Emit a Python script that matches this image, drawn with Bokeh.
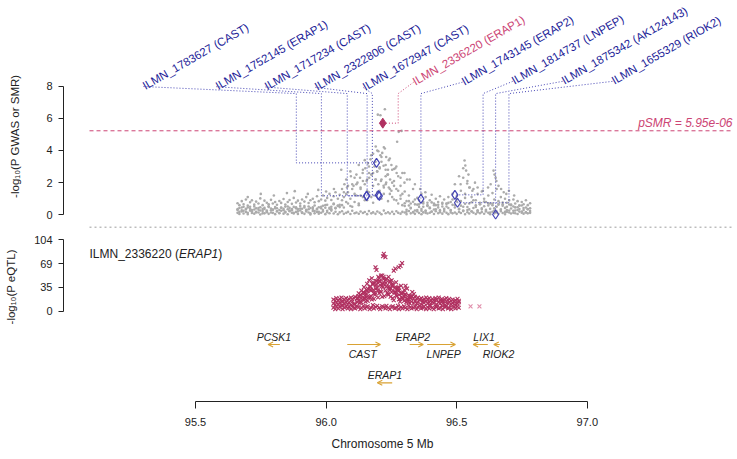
import math
from bokeh.plotting import figure
from bokeh.layouts import column
from bokeh.models import Range1d, FixedTicker, ColumnDataSource, Arrow, OpenHead, Title
from bokeh.core.properties import value
from bokeh.embed import file_html
from bokeh.resources import INLINE

# ---------------- data ----------------
# GWAS SNP positions (Mb) and four layers of -log10(P GWAS) read off the cloud
snp_mb = [
    95.661, 95.668, 95.677, 95.684, 95.693, 95.700, 95.709, 95.716, 95.725, 95.732,
    95.741, 95.748, 95.757, 95.764, 95.773, 95.780, 95.789, 95.796, 95.805, 95.812,
    95.821, 95.828, 95.837, 95.844, 95.853, 95.860, 95.869, 95.876, 95.885, 95.892,
    95.901, 95.908, 95.917, 95.924, 95.933, 95.940, 95.949, 95.956, 95.965, 95.972,
    95.981, 95.988, 95.997, 96.004, 96.013, 96.020, 96.029, 96.036, 96.045, 96.052,
    96.061, 96.068, 96.077, 96.084, 96.093, 96.100, 96.109, 96.116, 96.125, 96.132,
    96.141, 96.148, 96.157, 96.164, 96.173, 96.180, 96.189, 96.196, 96.205, 96.212,
    96.221, 96.228, 96.237, 96.244, 96.253, 96.260, 96.269, 96.276, 96.285, 96.292,
    96.301, 96.308, 96.317, 96.324, 96.333, 96.340, 96.349, 96.356, 96.365, 96.372,
    96.381, 96.388, 96.397, 96.404, 96.413, 96.420, 96.429, 96.436, 96.445, 96.452,
    96.461, 96.468, 96.477, 96.484, 96.493, 96.500, 96.509, 96.516, 96.525, 96.532,
    96.541, 96.548, 96.557, 96.564, 96.573, 96.580, 96.589, 96.596, 96.605, 96.612,
    96.621, 96.628, 96.637, 96.644, 96.653, 96.660, 96.669, 96.676, 96.685, 96.692,
    96.701, 96.708, 96.717, 96.724, 96.733, 96.740, 96.749, 96.756, 96.765, 96.772,
    96.781]
gwas_low = [
    0.12, 0.05, 0.21, 0.08, 0.17, 0.03, 0.26, 0.11, 0.07, 0.19, 0.14, 0.02, 0.23, 0.09, 0.16, 0.06, 0.28, 0.12, 0.04, 0.2,
    0.1, 0.25, 0.07, 0.15, 0.03, 0.22, 0.13, 0.08, 0.18, 0.05, 0.27, 0.11, 0.06, 0.2, 0.14, 0.02, 0.24, 0.09, 0.17, 0.07,
    0.13, 0.21, 0.04, 0.16, 0.1, 0.26, 0.08, 0.19, 0.03, 0.15, 0.22, 0.06, 0.12, 0.18, 0.05, 0.25, 0.1, 0.14, 0.07, 0.21,
    0.11, 0.17, 0.04, 0.23, 0.09, 0.15, 0.06, 0.2, 0.13, 0.03, 0.26, 0.1, 0.16, 0.08, 0.19, 0.05, 0.22, 0.12, 0.07, 0.18,
    0.14, 0.04, 0.24, 0.09, 0.17, 0.06, 0.21, 0.11, 0.03, 0.15, 0.25, 0.08, 0.13, 0.19, 0.05, 0.22, 0.1, 0.16, 0.07, 0.2,
    0.12, 0.04, 0.27, 0.09, 0.14, 0.06, 0.18, 0.11, 0.23, 0.03, 0.16, 0.08, 0.2, 0.13, 0.05, 0.24, 0.1, 0.17, 0.07, 0.21,
    0.12, 0.04, 0.19, 0.09, 0.15, 0.06, 0.22, 0.11, 0.03, 0.18, 0.14, 0.08, 0.25, 0.1, 0.05, 0.2, 0.13, 0.07, 0.16, 0.09,
    0.12]
gwas_mid = [
    0.35, 0.42, 0.28, 0.5, 0.33, 0.46, 0.38, 0.29, 0.52, 0.4, 0.31, 0.47, 0.36, 0.44, 0.27, 0.53, 0.39, 0.32, 0.48, 0.41,
    0.3, 0.45, 0.37, 0.51, 0.34, 0.43, 0.28, 0.49, 0.4, 0.35, 0.55, 0.38, 0.46, 0.31, 0.52, 0.42, 0.36, 0.58, 0.33, 0.47,
    0.4, 0.56, 0.44, 0.62, 0.38, 0.5, 0.66, 0.43, 0.58, 0.48,
    0.9, 0.45, 1.3, 0.7, 0.55, 1.6, 0.8, 1.9, 0.6, 1.2, 2.1, 0.9, 1.5, 2.6, 1.1, 0.75, 2.2, 1.4, 2.9, 1.0,
    1.7, 2.4, 0.85, 1.3, 2.0, 0.95, 1.6, 0.7, 1.2, 0.6,
    0.72, 0.31, 0.58, 0.44, 0.81, 0.27, 0.63, 0.49, 0.36, 0.7, 0.25, 0.55, 0.41, 0.77, 0.33, 0.6, 0.46, 0.29, 0.68, 0.38,
    0.52, 0.74, 0.3, 0.62, 0.45, 0.83, 0.35, 0.57, 0.26, 0.69, 0.48, 0.34, 0.78, 0.42, 0.59, 0.28, 0.66, 0.4, 0.53, 0.31,
    0.71, 0.37, 0.6, 0.26, 0.5, 0.67, 0.33, 0.56, 0.43, 0.29, 0.64, 0.39, 0.52, 0.27, 0.47, 0.36, 0.58, 0.3, 0.45, 0.34,
    0.4]
gwas_high = [
    0.72, 0.6, 0.85, 0.66, 0.95, 0.58, 0.78, 0.9, 0.63, 0.82, 0.7, 1.02, 0.6, 0.88, 0.75, 0.65, 0.93, 0.7, 0.8, 0.62,
    0.86, 0.74, 0.98, 0.64, 0.8, 0.92, 0.68, 1.05, 0.76, 0.88, 0.7, 0.95, 0.82, 1.1, 0.73, 0.9, 1.0, 0.78, 1.15, 0.85,
    0.95, 1.2, 0.88, 1.05, 1.3, 0.92, 1.15, 1.4, 1.0, 1.25,
    1.6, 1.1, 2.2, 1.4, 2.7, 1.9, 1.3, 2.5, 3.1, 1.7, 2.8, 3.4, 2.2, 3.0, 3.7, 2.6, 3.3, 4.0, 2.9, 3.6,
    4.2, 3.1, 2.5, 3.5, 2.8, 2.1, 3.0, 2.4, 1.8, 2.6,
    1.45, 0.85, 1.2, 0.7, 1.6, 0.95, 1.05, 0.65, 1.3, 0.8, 1.1, 0.6, 0.9, 1.25, 0.7, 1.0, 0.62, 1.15, 0.75, 0.95,
    0.68, 1.1, 0.8, 1.3, 1.9, 1.0, 2.4, 1.5, 2.9, 1.3, 2.1, 1.7, 1.1, 1.6, 0.9, 1.3, 0.75, 1.45, 1.0, 0.8,
    1.2, 0.7, 1.35, 0.95, 1.6, 0.85, 1.1, 0.65, 1.0, 0.75, 0.9, 0.6, 0.95, 0.7, 0.85, 0.58, 0.8, 0.66, 0.9, 0.6,
    0.72]
gwas_extra = [
    0.3, 0.18, 0.45, 0.25, 0.38, 0.12, 0.5, 0.22, 0.33, 0.15, 0.42, 0.27, 0.09, 0.36, 0.2, 0.48, 0.14, 0.31, 0.4, 0.24,
    0.11, 0.44, 0.29, 0.19, 0.52, 0.26, 0.35, 0.13, 0.47, 0.21, 0.39, 0.16, 0.55, 0.28, 0.34, 0.1, 0.46, 0.23, 0.37, 0.18,
    0.5, 0.3, 0.6, 0.25, 0.44, 0.35, 0.7, 0.4, 0.55, 0.62,
    0.6, 1.4, 0.8, 1.8, 1.0, 0.5, 2.3, 1.2, 0.7, 1.6, 1.1, 1.9, 0.9, 1.4, 2.5, 1.8, 1.2, 2.7, 1.5, 2.2,
    1.3, 1.9, 2.8, 1.6, 1.1, 1.8, 0.9, 1.5, 1.0, 1.3,
    0.55, 0.2, 0.85, 0.4, 0.15, 0.65, 0.3, 0.9, 0.25, 0.5, 0.12, 0.75, 0.45, 0.2, 0.6, 0.35, 0.8, 0.18, 0.52, 0.3,
    0.7, 0.42, 0.15, 0.95, 0.6, 1.15, 0.38, 0.85, 0.5, 1.05, 0.3, 0.7, 0.22, 0.9, 0.48, 0.16, 0.66, 0.34, 0.82, 0.25,
    0.58, 0.14, 0.7, 0.4, 0.2, 0.62, 0.32, 0.76, 0.18, 0.5, 0.27, 0.64, 0.12, 0.46, 0.3, 0.58, 0.2, 0.42, 0.15, 0.36,
    0.24]
# individual stronger GWAS SNPs
top_snp_mb = [
    96.198, 96.208, 96.225, 96.272, 96.278, 96.289, 96.225, 96.208, 96.190, 96.200,
    96.215, 96.230, 96.240, 96.180, 96.170, 96.160, 96.150, 96.250, 96.260, 96.270,
    96.285, 96.300, 96.310, 96.140, 96.130, 96.120, 96.105, 96.095, 96.080, 96.070,
    96.058, 96.030, 96.000, 95.970, 95.930, 95.880, 95.850, 95.800, 95.750, 95.700,
    96.185, 96.195, 96.205, 96.212, 96.220, 96.228, 96.235, 96.245, 96.175, 96.165,
    96.155, 96.190, 96.200, 96.210, 96.220, 96.230, 96.240, 96.250, 96.265, 96.300,
    96.320, 96.340, 96.360, 96.380, 96.530, 96.533, 96.536, 96.540, 96.525, 96.545,
    96.550, 96.515, 96.560, 96.641, 96.645, 96.649, 96.652, 96.660, 96.670, 96.620,
    96.630, 96.680, 96.690, 96.700, 96.720, 96.600, 96.580, 96.570]
top_snp_logp = [
    6.23, 6.19, 6.57, 4.54, 5.16, 5.22, 4.12, 3.70, 4.25, 3.95,
    3.85, 3.60, 3.40, 3.80, 3.45, 3.20, 2.90, 3.10, 2.85, 2.60,
    2.30, 2.00, 2.20, 2.60, 2.30, 2.00, 1.80, 2.40, 1.70, 1.90,
    2.80, 1.60, 1.45, 1.55, 1.30, 1.47, 1.35, 1.20, 1.30, 1.10,
    3.00, 2.70, 2.95, 3.30, 3.05, 2.80, 2.50, 2.20, 2.50, 2.30,
    2.10, 2.20, 1.90, 2.10, 1.80, 2.00, 1.70, 1.50, 2.90, 2.60,
    2.20, 1.90, 1.60, 1.40, 3.38, 3.07, 2.75, 1.95, 2.30, 2.50,
    1.70, 1.90, 1.50, 2.75, 2.50, 2.30, 2.10, 1.80, 1.60, 1.70,
    1.90, 1.40, 1.30, 1.50, 1.20, 1.50, 1.70, 2.00]

# SMR probes
probe_id = ["ILMN_1783627", "ILMN_1752145", "ILMN_1717234", "ILMN_2322806", "ILMN_1672947",
            "ILMN_2336220", "ILMN_1743145", "ILMN_1814737", "ILMN_1875342", "ILMN_1655329"]
probe_gene = ["CAST", "ERAP1", "CAST", "CAST", "CAST", "ERAP1", "ERAP2", "LNPEP", "AK124143", "RIOK2"]
probe_mb = [95.886, 95.982, 96.081, 96.157, 96.177, 96.276, 96.363, 96.601, 96.649, 96.700]
probe_smr_logp = [3.23, 1.18, 1.18, 1.22, 1.18, 5.70, 0.99, 1.24, 0.02, 0.75]
probe_top_eqtl_mb = [96.193, 96.155, 96.155, 96.200, 96.204, 96.217, 96.363, 96.493, 96.649, 96.503]
highlight_probe = "ILMN_2336220"
highlight_gene = "ERAP1"
p_smr = 5.95e-06
p_smr_label = "pSMR = 5.95e-06"

# eQTL of the highlighted probe
eqtl_mb = [
    96.028, 96.035, 96.039, 96.047, 96.052, 96.059, 96.063, 96.071, 96.076, 96.083,
    96.087, 96.095, 96.100, 96.107, 96.111, 96.119, 96.124, 96.131, 96.135, 96.143,
    96.148, 96.155, 96.159, 96.167, 96.172, 96.179, 96.183, 96.191, 96.196, 96.203,
    96.207, 96.215, 96.220, 96.227, 96.231, 96.239, 96.244, 96.251, 96.255, 96.263,
    96.268, 96.275, 96.279, 96.287, 96.292, 96.299, 96.303, 96.311, 96.316, 96.323,
    96.327, 96.335, 96.340, 96.347, 96.351, 96.359, 96.364, 96.371, 96.375, 96.383,
    96.388, 96.395, 96.399, 96.407, 96.412, 96.419, 96.423, 96.431, 96.436, 96.443,
    96.447, 96.455, 96.460, 96.467, 96.471, 96.479, 96.484, 96.491, 96.495, 96.503,
    96.508]
eqtl_low = [
    5, 3, 7, 4, 6, 8, 3, 5, 7, 4, 6, 3, 8, 5, 4, 7, 6, 3, 5, 8,
    4, 6, 7, 3, 5, 9, 4, 6, 8, 5, 3, 7, 6, 4, 8, 5, 3, 6, 7, 4,
    5, 8, 3, 6, 4, 7, 5, 3, 8, 6, 4, 5, 7, 3, 6, 8, 4, 5, 7, 3,
    6, 4, 8, 5, 3, 7, 6, 4, 5, 8, 3, 6, 7, 4, 5, 3, 8, 6, 4, 7,
    5]
eqtl_mid = [
    11, 9, 13, 10, 12, 14, 9, 11, 13, 10, 12, 9, 14, 11, 10, 13,
    16, 24, 13, 27, 19, 31, 15, 35, 22, 40, 18, 33, 44, 26, 38, 21, 47, 30, 36, 24,
    42, 28, 19, 34, 23, 30, 17, 26, 20, 15, 24, 18, 14, 20,
    14, 12, 15, 11, 13, 16, 10, 14, 12, 15, 11, 13, 9, 14, 12, 16, 10, 13, 11, 15,
    12, 9, 14, 11, 13, 10, 12, 14, 9, 11, 13]
eqtl_high = [
    17, 15, 19, 16, 18, 20, 15, 17, 19, 16, 18, 20, 17, 19, 21, 18,
    22, 14, 19, 28, 18, 25, 33, 21, 30, 39, 26, 44, 34, 48, 29, 52, 41, 46, 36, 50,
    31, 45, 38, 27, 42, 33, 24, 37, 20, 31, 25, 17, 23, 19,
    22, 19, 21, 18, 20, 17, 19, 16, 18, 20, 17, 19, 15, 18, 16, 19, 17, 20, 16, 18,
    15, 17, 19, 16, 18, 15, 17, 14, 16, 18, 15]
eqtl_fill_mb = [
    96.122, 96.128, 96.133, 96.139, 96.146, 96.151, 96.157, 96.163, 96.170, 96.175,
    96.181, 96.187, 96.194, 96.199, 96.205, 96.211, 96.218, 96.223, 96.229, 96.235,
    96.242, 96.247, 96.253, 96.259, 96.266, 96.271, 96.277, 96.283, 96.290, 96.295,
    96.301, 96.307, 96.314, 96.319]
eqtl_fill_logp = [
    19, 12, 23, 17, 26, 14, 29, 20, 36, 17, 31, 24, 39, 20, 43, 28, 35, 22, 41, 27,
    33, 21, 37, 16, 28, 22, 35, 14, 26, 18, 21, 13, 17, 12]
eqtl_top_mb = [96.221, 96.227, 96.218, 96.189, 96.193, 96.259, 96.265, 96.278, 96.291, 96.285,
               96.157, 96.165, 96.175, 96.200, 96.210, 96.220, 96.232, 96.245, 96.255, 96.304,
               96.310, 96.336, 96.330, 96.145, 96.135, 96.125, 96.180, 96.190, 96.205, 96.215,
               96.240, 96.270, 96.280, 96.295, 96.320, 96.150, 96.170, 96.186, 96.212, 96.236,
               96.262, 96.248, 96.198, 96.162, 96.282]
eqtl_top_logp = [83.6, 78.7, 80, 64, 60, 59, 62, 64, 70, 66,
                 40, 45, 48, 50, 52, 50, 47, 44, 40, 37,
                 33, 25, 28, 35, 30, 26, 42, 38, 44, 40,
                 36, 34, 30, 27, 22, 22, 31, 27, 36, 25,
                 28, 33, 30, 20, 18]
eqtl_far_mb = [96.553, 96.587]
eqtl_far_logp = [7, 7]

# genes
gene_name = ["PCSK1", "CAST", "ERAP2", "LNPEP", "LIX1", "RIOK2", "ERAP1"]
gene_start = [95.778, 96.081, 96.320, 96.387, 96.563, 96.642, 96.196]
gene_end = [95.823, 96.208, 96.372, 96.495, 96.619, 96.665, 96.253]
gene_strand = ["-", "+", "+", "+", "-", "-", "-"]

x_ticks = [95.5, 96.0, 96.5, 97.0]
x_tick_labels = ["95.5", "96.0", "96.5", "97.0"]
gwas_ticks = [0, 2, 4, 6, 8]
eqtl_ticks = [0, 35, 69, 104]

# ---------------- layout / style ----------------
FONT = "Liberation Sans"
NAVY_TXT = "#1d1d98"
NAVY_LN = "#4545b4"
MAROON = "#B03060"
PINK = "#CC4474"
GREY = "#ABABAB"
GOLD = "#D9A233"
AXC = "#222222"
NB = "\u00a0"

W = 737
LEFT = 63
xr = Range1d(94.99464, 97.5750)
PLOT_X0 = 95.0942
PLOT_X1 = 97.556
CONNECT_TOP = 7.54

label_anchor_mb = [95.301, 95.580, 95.768, 95.959, 96.143, 96.335, 96.522, 96.714, 96.905, 97.096]
label_anchor_y = [7.98, 7.97, 7.95, 7.93, 7.91, 8.25, 8.25, 8.3, 8.3, 8.3]
gene_label_mb = [95.800, 96.140, 96.332, 96.450, 96.605, 96.660, 96.225]
gene_row = [1, 1, 1, 1, 1, 1, 2]
gene_label_side = ["above", "below", "above", "below", "above", "below", "above"]


def base(h, yr, **kw):
    p = figure(width=W, height=h, x_range=xr, y_range=yr, output_backend="svg",
               toolbar_location=None, min_border_left=LEFT, min_border_right=0,
               min_border_top=0, **kw)
    p.grid.visible = False
    p.outline_line_color = None
    return p


def style_yaxis(ax, ticks, label, standoff):
    ax.bounds = (min(ticks), max(ticks))
    ax.ticker = FixedTicker(ticks=ticks)
    ax.major_tick_out = 5
    ax.major_tick_in = 0
    ax.minor_tick_out = 0
    ax.minor_tick_in = 0
    ax.axis_line_color = AXC
    ax.major_tick_line_color = AXC
    ax.major_label_text_font = FONT
    ax.major_label_text_font_size = "11px"
    ax.major_label_text_color = AXC
    ax.major_label_standoff = 6
    ax.axis_label = label
    ax.axis_label_text_font = FONT
    ax.axis_label_text_font_size = "11.5px"
    ax.axis_label_text_font_style = "normal"
    ax.axis_label_text_color = AXC
    ax.axis_label_standoff = standoff


# ---------- panel A: GWAS + SMR ----------
pA = base(230, Range1d(-0.977, 13.331), x_axis_location=None, min_border_bottom=0)
style_yaxis(pA.yaxis[0], gwas_ticks, "-log\u2081\u2080(P GWAS or SMR)" + NB * 13, 22)

gx, gy = [], []
for layer in (gwas_low, gwas_mid, gwas_high, gwas_extra):
    for x, y in zip(snp_mb, layer):
        gx.append(x)
        gy.append(y)
for x, y in zip(top_snp_mb, top_snp_logp):
    gx.append(x)
    gy.append(y)
pA.scatter(gx, gy, marker="circle", size=2.6, fill_color=GREY, line_color=None)

thr = -math.log10(p_smr)
pA.segment(x0=[PLOT_X0], y0=[thr], x1=[PLOT_X1], y1=[thr], line_color=PINK,
           line_dash="4 3", line_width=1)
pA.segment(x0=[PLOT_X0], y0=[-0.77], x1=[PLOT_X1], y1=[-0.77], line_color="#9c9c9c",
           line_dash="2 3", line_width=1)

hi = probe_id.index(highlight_probe)
xs, ys, cols = [], [], []
for i in range(len(probe_id)):
    xs.append([label_anchor_mb[i], probe_mb[i], probe_mb[i], probe_top_eqtl_mb[i]])
    ys.append([label_anchor_y[i], CONNECT_TOP, probe_smr_logp[i], probe_smr_logp[i]])
    cols.append(PINK if i == hi else NAVY_LN)
pA.multi_line(xs=xs, ys=ys, line_color=cols, line_dash="1 2", line_width=1)

bx = [probe_top_eqtl_mb[i] for i in range(len(probe_id)) if i != hi]
by = [probe_smr_logp[i] for i in range(len(probe_id)) if i != hi]
pA.scatter(bx, by, marker="diamond", size=9, fill_color=None, line_color=NAVY_LN, line_width=1.2)
pA.scatter([probe_top_eqtl_mb[hi]], [probe_smr_logp[hi]], marker="diamond", size=10,
           fill_color=MAROON, line_color=MAROON)

lab_src = ColumnDataSource(dict(
    x=label_anchor_mb, y=label_anchor_y,
    t=[f"{pid} ({g})" for pid, g in zip(probe_id, probe_gene)],
    c=[PINK if i == hi else NAVY_TXT for i in range(len(probe_id))]))
pA.text(x="x", y="y", text="t", source=lab_src, angle=math.radians(30), text_color="c",
        text_font=value(FONT), text_font_size=value("11.5px"), text_align="left",
        text_baseline="alphabetic")
pA.text(x=[PLOT_X1], y=[5.74], text=[p_smr_label], text_color=PINK, text_font=value(FONT),
        text_font_size=value("12px"), text_font_style="italic", text_align="right",
        text_baseline="alphabetic")

# ---------- panel B: eQTL ----------
pB = base(100, Range1d(-28.11, 117.55), x_axis_location=None, min_border_bottom=0)
style_yaxis(pB.yaxis[0], eqtl_ticks, "-log\u2081\u2080(P eQTL)" + NB * 4, 14)
ex, ey = [], []
for layer in (eqtl_low, eqtl_mid, eqtl_high):
    for x, y in zip(eqtl_mb, layer):
        ex.append(x)
        ey.append(y)
for xl, yl in ((eqtl_fill_mb, eqtl_fill_logp), (eqtl_top_mb, eqtl_top_logp)):
    for x, y in zip(xl, yl):
        ex.append(x)
        ey.append(y)
pB.scatter(ex, ey, marker="x", size=5.5, line_color=MAROON, line_width=1.1)
pB.scatter(eqtl_far_mb, eqtl_far_logp, marker="x", size=5.5, line_color="#E08DAA", line_width=1.1)
common = dict(text_font=value(FONT), text_font_size=value("12px"), text_color=AXC,
              text_align="left", text_baseline="alphabetic")
pB.text(x=[PLOT_X0], y=[84], text=[highlight_probe + " ("], **common)
pB.text(x=[PLOT_X0], y=[84], text=[highlight_gene], x_offset=89.4, text_font_style="italic", **common)
pB.text(x=[PLOT_X0], y=[84], text=[")"], x_offset=128.7, **common)

# ---------- panel C: genes + x axis ----------
pC = base(129, Range1d(2.488, 0.6345), y_axis_location=None, min_border_bottom=58)
xa = pC.xaxis[0]
xa.bounds = (x_ticks[0], x_ticks[-1])
xa.ticker = FixedTicker(ticks=x_ticks)
xa.major_label_overrides = {t: l for t, l in zip(x_ticks, x_tick_labels)}
xa.major_tick_out = 7
xa.major_tick_in = 0
xa.minor_tick_out = 0
xa.minor_tick_in = 0
xa.axis_line_color = AXC
xa.major_tick_line_color = AXC
xa.major_label_text_font = FONT
xa.major_label_text_font_size = "11px"
xa.major_label_text_color = AXC
xa.major_label_standoff = 9
pC.add_layout(Title(text="Chromosome 5 Mb", align="left", offset=268, standoff=13,
                    text_font=FONT, text_font_size="12px", text_font_style="normal",
                    text_color=AXC), "below")

a_src = ColumnDataSource(dict(
    x0=[s if d == "+" else e for s, e, d in zip(gene_start, gene_end, gene_strand)],
    x1=[e if d == "+" else s for s, e, d in zip(gene_start, gene_end, gene_strand)],
    y=gene_row))
pC.add_layout(Arrow(end=OpenHead(size=5, line_color=GOLD, line_width=1.1), x_start="x0",
                    y_start="y", x_end="x1", y_end="y", source=a_src, line_color=GOLD,
                    line_width=1.2))
g_src = ColumnDataSource(dict(
    x=gene_label_mb, y=gene_row, t=gene_name,
    yo=[-8 if s == "above" else 9 for s in gene_label_side]))
pC.text(x="x", y="y", text="t", y_offset="yo", source=g_src, text_font=value(FONT),
        text_font_size=value("10.5px"), text_font_style="italic", text_color=AXC,
        text_align="center", text_baseline="middle")

layout = column(pA, pB, pC)
open("out.html", "w").write(file_html(layout, INLINE, "SMR locus plot"))
